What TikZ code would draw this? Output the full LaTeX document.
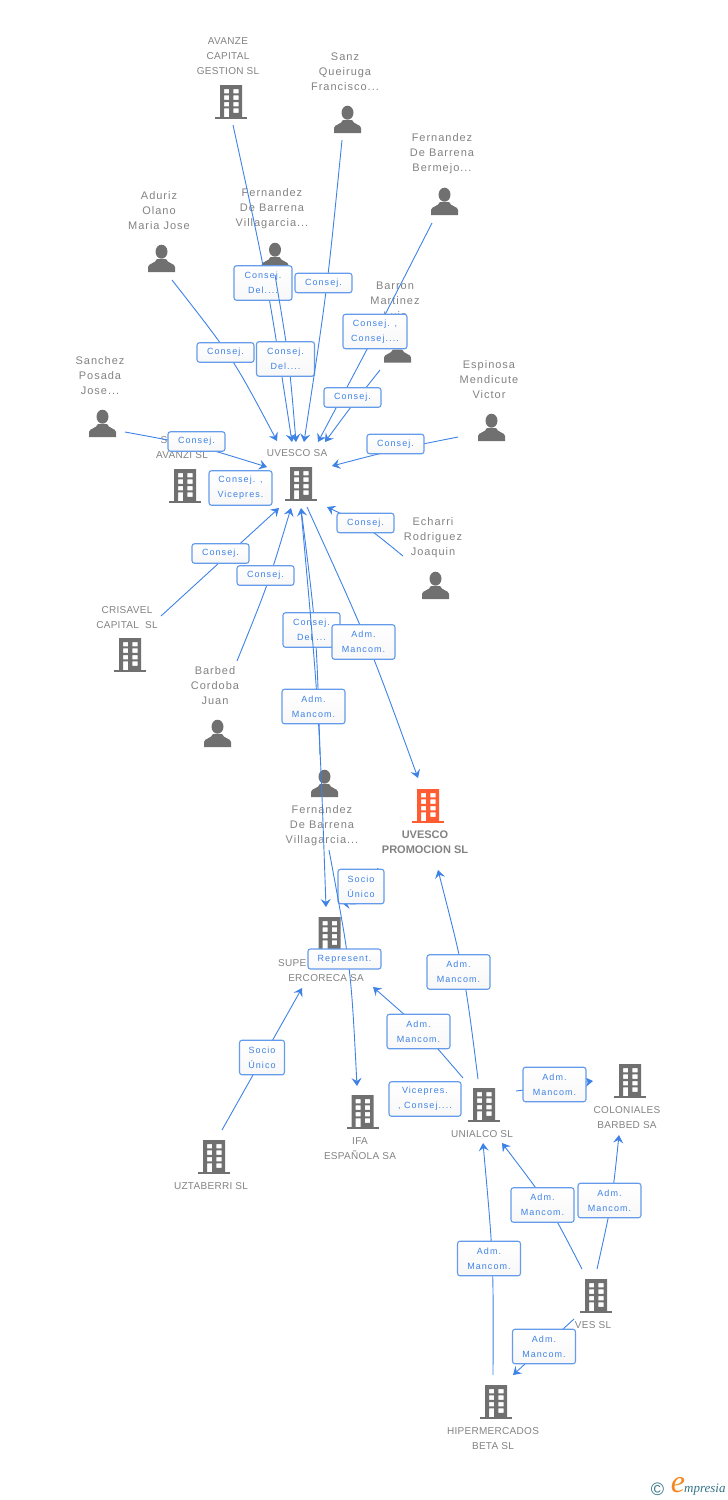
\documentclass[tikz,border=0pt]{standalone}
\usepackage{fontspec}
\usetikzlibrary{arrows.meta}
\setmainfont{Liberation Sans}
\newfontfamily\firmfont[LetterSpace=3]{Liberation Sans}
\newfontfamily\namefont[LetterSpace=9]{Liberation Sans}
\newfontfamily\relfont[LetterSpace=12]{Liberation Sans}
\newfontfamily\logofont{Liberation Serif}
\definecolor{icongray}{RGB}{112,112,112}
\definecolor{textgray}{RGB}{130,130,130}
\definecolor{linkblue}{RGB}{62,130,230}
\definecolor{boxblue}{RGB}{100,155,235}
\definecolor{mainorange}{RGB}{255,92,51}
\definecolor{logoteal}{RGB}{50,115,135}
\definecolor{logoorange}{RGB}{245,135,30}
\tikzset{
  firm/.style={text=textgray,align=center,inner sep=0pt,font=\firmfont\fontsize{10}{15}\selectfont},
  person/.style={text=textgray,align=center,inner sep=0pt,font=\namefont\fontsize{11}{15}\selectfont},
  mainfirm/.style={text=textgray,align=center,inner sep=0pt,font=\bfseries\fontsize{11}{15}\selectfont},
  link/.style={linkblue,line width=0.9pt,-{Stealth[length=8pt,width=10pt,inset=3pt]}},
  rel/.style={draw=boxblue,line width=1.1pt,rounded corners=2.5pt,top color=white,bottom color=black!3,
    text=linkblue,align=center,inner sep=0pt,minimum width=57pt,minimum height=19.5pt,
    font=\relfont\fontsize{9}{15}\selectfont},
  relD/.style={rel,minimum width=58pt,minimum height=34.5pt},
  relA/.style={rel,minimum width=63pt,minimum height=34.5pt},
  relS/.style={rel,minimum width=45pt,minimum height=34.5pt},
  relW/.style={rel,minimum width=72pt,minimum height=34.5pt},
  pics/bldg/.style={code={
    \path[pic actions,even odd rule] (-11,-17) rectangle (11,15)
      (-7,-13) rectangle (-2,-8.7) (2.3,-13) rectangle (7.6,-8.7)
      (-7,-6.7) rectangle (-2,-2.2) (2.3,-6.7) rectangle (7.6,-2.2)
      (-7,0) rectangle (-2,4.3) (2.3,0) rectangle (7.6,4.3)
      (-7,6.3) rectangle (-2,15) (2.3,6.3) rectangle (7.6,10.8);
    \path[pic actions] (-16,14.7) rectangle (16,17);
  }},
  pics/human/.style={code={
    \path[pic actions] (0,-6.8) ellipse (6 and 7);
    \path[pic actions] (-13.5,13.5) -- (-13.5,8.5) .. controls (-13.5,5) and (-6,5) .. (-4.5,0.5)
      -- (4.5,0.5) .. controls (6,5) and (13.5,5) .. (13.5,8.5) -- (13.5,13.5) -- cycle;
  }}
}
\begin{document}
\begin{tikzpicture}[x=1pt,y=-1pt]
  \useasboundingbox (0,0) rectangle (728,1500);
  % icons
  \coordinate (avanze) at (231,102);
  \coordinate (uvesco) at (301,484);
  \coordinate (avanzi) at (185,486);
  \coordinate (crisavel) at (130,655);
  \coordinate (promo) at (428,806);
  \coordinate (super) at (329.5,934);
  \coordinate (ifa) at (362.5,1112);
  \coordinate (uztaberri) at (214,1157);
  \coordinate (unialco) at (484,1105);
  \coordinate (coloniales) at (630,1081);
  \coordinate (ves) at (596,1296);
  \coordinate (hiper) at (496,1402);
  \coordinate (sanz) at (347.5,119.5);
  \coordinate (bermejo) at (444.5,201.5);
  \coordinate (aduriz) at (161.5,258.5);
  \coordinate (fertop) at (275,256.5);
  \coordinate (barron) at (397.5,349);
  \coordinate (sanchez) at (102.5,423.5);
  \coordinate (espinosa) at (491.5,427.5);
  \coordinate (echarri) at (435.5,585.5);
  \coordinate (barbed) at (217.5,733.5);
  \coordinate (ferbot) at (324.5,783.5);
  \foreach \n in {avanze,uvesco,avanzi,crisavel,super,ifa,uztaberri,unialco,coloniales,ves,hiper}
    \pic[fill=icongray] at (\n) {bldg};
  \pic[fill=mainorange] at (promo) {bldg};
  \foreach \n in {sanz,bermejo,aduriz,fertop,barron,sanchez,espinosa,echarri,barbed,ferbot}
    \pic[fill=icongray] at (\n) {human};
  % names
  \node[firm] (tavanze) at (228,56) {AVANZE\\CAPITAL\\GESTION SL};
  \node[person] (tsanz) at (345,72) {Sanz\\Queiruga\\Francisco...};
  \node[person] (tbermejo) at (442,154) {Fernandez\\De Barrena\\Bermejo...};
  \node[person] (taduriz) at (159,211) {Aduriz\\Olano\\Maria Jose};
  \node[person] (tfertop) at (272,209) {Fernandez\\De Barrena\\Villagarcia...};
  \node[person] (tbarron) at (395,301) {Barron\\Martinez\\Luis};
  \node[person] (tsanchez) at (100,376) {Sanchez\\Posada\\Jose...};
  \node[person] (tespinosa) at (489,380) {Espinosa\\Mendicute\\Victor};
  \node[firm] (tavanzi) at (182,448) {S\phantom{AVANZI}\\AVANZI SL};
  \node[firm] (tuvesco) at (297,453) {UVESCO SA};
  \node[person] (techarri) at (433,538) {Echarri\\Rodriguez\\Joaquin};
  \node[firm] (tcrisavel) at (127,617.5) {CRISAVEL\\CAPITAL\ \ SL};
  \node[person] (tbarbed) at (215,686) {Barbed\\Cordoba\\Juan};
  \node[person] (tferbot) at (322,826) {Fernandez\\De Barrena\\Villagarcia...};
  \node[mainfirm] (tpromo) at (425,842.5) {UVESCO\\PROMOCION SL};
  \node[firm] (tsuper) at (326,970.5) {SUPE\phantom{RMERCADOS}\\ERCORECA SA};
  \node[firm] (tifa) at (360,1148.5) {IFA\\ESPAÑOLA SA};
  \node[firm] (tuztaberri) at (211,1186) {UZTABERRI SL};
  \node[firm] (tunialco) at (482,1134) {UNIALCO SL};
  \node[firm] (tcoloniales) at (627,1117.5) {COLONIALES\\BARBED SA};
  \node[firm] (tves) at (593,1325) {VES SL};
  \node[firm] (thiper) at (493,1438.5) {HIPERMERCADOS\\BETA SL};
  % link ends
  \coordinate (a1) at (233,125);   \coordinate (b1) at (292,442);
  \coordinate (a2) at (275,275);   \coordinate (b2) at (296,442);
  \coordinate (a3) at (342,140);   \coordinate (b3) at (304,442);
  \coordinate (a4) at (432,223);   \coordinate (b4) at (318,442);
  \coordinate (a5) at (380,370);   \coordinate (b5) at (325,442);
  \coordinate (a6) at (172,280);   \coordinate (b6) at (277,441);
  \coordinate (a7) at (125,432);   \coordinate (b7) at (267,467);
  \coordinate (a8) at (458,437);   \coordinate (b8) at (332,466);
  \coordinate (a9) at (403,556);   \coordinate (b9) at (327,507);
  \coordinate (a10) at (161,616);  \coordinate (b10) at (279,508);
  \coordinate (a11) at (237,661);  \coordinate (b11) at (291,508);
  \coordinate (a12) at (320,755);  \coordinate (b12) at (301,508);
  \coordinate (a13) at (307,507);  \coordinate (b13) at (418,778);
  \coordinate (a14) at (301,510);  \coordinate (b14) at (326,907);
  \coordinate (a15) at (378,868);  \coordinate (b15) at (342,903);
  \coordinate (a16) at (329,850);  \coordinate (b16) at (357,1086);
  \coordinate (a17) at (478,1079); \coordinate (b17) at (438,870);
  \coordinate (a18) at (463,1078); \coordinate (b18) at (373,987);
  \coordinate (a19) at (222,1130); \coordinate (b19) at (302,988);
  \coordinate (a20) at (516,1091); \coordinate (b20) at (593,1081);
  \coordinate (a21) at (582,1269); \coordinate (b21) at (502,1143);
  \coordinate (a22) at (597,1269); \coordinate (b22) at (619,1135);
  \coordinate (a23) at (493,1375); \coordinate (b23) at (483,1143);
  \coordinate (a24) at (574,1319); \coordinate (b24) at (513,1375);
  % links, each with its box
  \draw[link] (a1) .. controls (267.7,283.5) .. (b1);
  \node[relD] (r1) at (263,283) {Consej.\\Del....};
  \draw[link] (a2) .. controls (289,358) .. (b2);
  \node[relD] (r2) at (285.5,359) {Consej.\\Del....};
  \draw[link] (a3) .. controls (327,291) .. (b3);
  \node[rel] (r3) at (323.5,283) {Consej.};
  \draw[link] (a4) .. controls (376,332.5) .. (b4);
  \node[rel,minimum width=64pt,minimum height=34.5pt] (r4) at (375,331.5) {Consej. ,\\Consej....};
  \draw[link] (a5) .. controls (351.5,406) .. (b5);
  \node[rel] (r5) at (352.5,397.5) {Consej.};
  \draw[link] (a6) .. controls (233,358) .. (b6);
  \node[rel] (r6) at (225.5,352.5) {Consej.};
  \draw[link] (a7) .. controls (196,445) .. (b7);
  \node[rel] (r7) at (196.5,441.5) {Consej.};
  \draw[link] (a8) .. controls (395,449.5) .. (b8);
  \node[rel] (r8) at (395.5,444) {Consej.};
  \node[relA] (r9) at (240.5,488) {Consej. ,\\Vicepres.};
  \draw[link] (a9) .. controls (365,525) .. (b9);
  \node[rel] (r10) at (365.5,523) {Consej.};
  \draw[link] (a10) -- (b10);
  \node[rel] (r11) at (220.5,553.5) {Consej.};
  \draw[link] (a11) .. controls (268,584.5) .. (b11);
  \node[rel] (r12) at (265.5,575.5) {Consej.};
  \draw[link] (a12) .. controls (316.5,631) .. (b12);
  \node[rel,minimum height=34.5pt] (r13) at (311.5,630) {Consej.\\Del ...};
  \draw[link] (a14) .. controls (319,708) .. (b14);
  \node[relA] (r14) at (313.5,706.5) {Adm.\\Mancom.};
  \draw[link] (a13) .. controls (368.5,642) .. (b13);
  \node[relA] (r15) at (363.5,642) {Adm.\\Mancom.};
  \draw[link] (a15) .. controls (362,905) .. (b15);
  \node[relS,minimum width=46pt] (r16) at (361,886.5) {Socio\\Único};
  \draw[link] (a16) .. controls (351,968) .. (b16);
  \node[rel,minimum width=73pt,minimum height=20pt] (r17) at (344.5,959) {Represent.};
  \draw[link] (a17) .. controls (464.7,974) .. (b17);
  \node[relA] (r18) at (458.5,972) {Adm.\\Mancom.};
  \draw[link] (a18) .. controls (421,1029) .. (b18);
  \node[relA] (r19) at (418.5,1031.5) {Adm.\\Mancom.};
  \draw[link] (a19) -- (b19);
  \node[relS] (r20) at (262,1057.5) {Socio\\Único};
  \node[relW] (r21) at (425,1099) {Vicepres.\\, Consej....};
  \draw[link] (a20) -- (b20);
  \node[relA] (r22) at (554.5,1084.5) {Adm.\\Mancom.};
  \draw[link] (a21) .. controls (548.5,1204) .. (b21);
  \node[relA] (r23) at (542.5,1205) {Adm.\\Mancom.};
  \draw[link] (a22) .. controls (612,1202) .. (b22);
  \node[relA] (r24) at (609.5,1200.5) {Adm.\\Mancom.};
  \draw[link] (a23) .. controls (493.5,1259) .. (b23);
  \node[relA] (r25) at (489,1258.5) {Adm.\\Mancom.};
  \draw[link] (a24) -- (b24);
  \node[relA] (r26) at (544,1346.5) {Adm.\\Mancom.};
  % logo
  \node[text=logoteal,inner sep=0pt,font=\fontsize{18}{18}\selectfont] (copy) at (657.5,1489) {©};
  \node[text=logoorange,inner sep=0pt,font=\logofont\itshape\fontsize{32}{32}\selectfont] (loge) at (678,1485) {e};
  \node[text=logoteal,inner sep=0pt,anchor=west,font=\logofont\itshape\fontsize{13}{13}\selectfont] (logo) at (684,1490) {mpresia};
\end{tikzpicture}
\end{document}
